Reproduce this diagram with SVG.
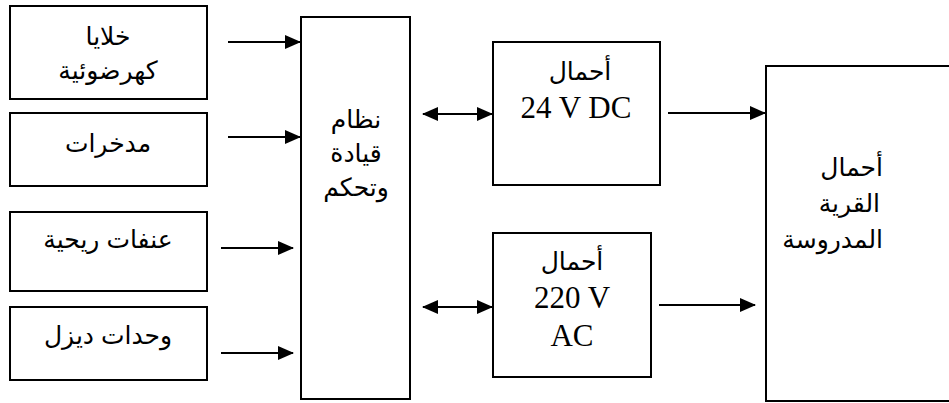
<svg xmlns="http://www.w3.org/2000/svg" width="949" height="403" viewBox="0 0 949 403">
<defs>
<style>
.box{fill:#fff;stroke:#000;stroke-width:2}
.ar{font-family:"Liberation Sans","DejaVu Sans",Arial,sans-serif;font-size:25px;fill:#000;text-anchor:middle}
.lat{font-family:"Liberation Serif","Times New Roman",serif;font-size:31px;fill:#000;text-anchor:middle}
.c{stroke:#000;stroke-width:2;fill:none}
</style>
<marker id="ah" markerWidth="16" markerHeight="14" refX="15" refY="7" orient="auto-start-reverse" markerUnits="userSpaceOnUse">
<path d="M0,0 L16,7 L0,14 Z" fill="#000"/>
</marker>
</defs>
<rect width="949" height="403" fill="#fff"/>
<g id="n1"><rect class="box" x="10" y="6" width="197" height="93"/><text class="ar" x="108" y="45">خلايا</text><text class="ar" x="108" y="79">كهرضوئية</text></g>
<g id="n2"><rect class="box" x="10" y="113" width="197" height="73"/><text class="ar" x="108" y="152">مدخرات</text></g>
<g id="n3"><rect class="box" x="10" y="212" width="197" height="79"/><text class="ar" x="108" y="248">عنفات ريحية</text></g>
<g id="n4"><rect class="box" x="10" y="307" width="197" height="73"/><text class="ar" x="108" y="344">وحدات ديزل</text></g>
<g id="ctrl"><rect class="box" x="301" y="17" width="109" height="382"/><text class="ar" x="356" y="128">نظام</text><text class="ar" x="356" y="162">قيادة</text><text class="ar" x="356" y="196">وتحكم</text></g>
<g id="dc"><rect class="box" x="493" y="42" width="167" height="143"/><text class="ar" x="580" y="80">أحمال</text><text class="lat" x="576" y="118">24 V DC</text></g>
<g id="ac"><rect class="box" x="493" y="233" width="158" height="144"/><text class="ar" x="572" y="270">أحمال</text><text class="lat" x="572" y="308">220 V</text><text class="lat" x="572" y="346">AC</text></g>
<g id="village"><rect class="box" x="766" y="66" width="190" height="335"/><text class="ar" x="883" y="176" style="text-anchor:end">أحمال</text><text class="ar" x="880" y="212" style="text-anchor:end">القرية</text><text class="ar" x="883" y="248" style="text-anchor:end">المدروسة</text></g>
<g id="connectors">
<line class="c" x1="228" y1="42" x2="300" y2="42" marker-end="url(#ah)"/>
<line class="c" x1="228" y1="137" x2="300" y2="137" marker-end="url(#ah)"/>
<line class="c" x1="221" y1="248" x2="293" y2="248" marker-end="url(#ah)"/>
<line class="c" x1="221" y1="353" x2="293" y2="353" marker-end="url(#ah)"/>
<line class="c" x1="423" y1="114" x2="492" y2="114" marker-start="url(#ah)" marker-end="url(#ah)"/>
<line class="c" x1="423" y1="307" x2="492" y2="307" marker-start="url(#ah)" marker-end="url(#ah)"/>
<line class="c" x1="668" y1="113" x2="765" y2="113" marker-end="url(#ah)"/>
<line class="c" x1="659" y1="305" x2="755" y2="305" marker-end="url(#ah)"/>
</g>
</svg>
